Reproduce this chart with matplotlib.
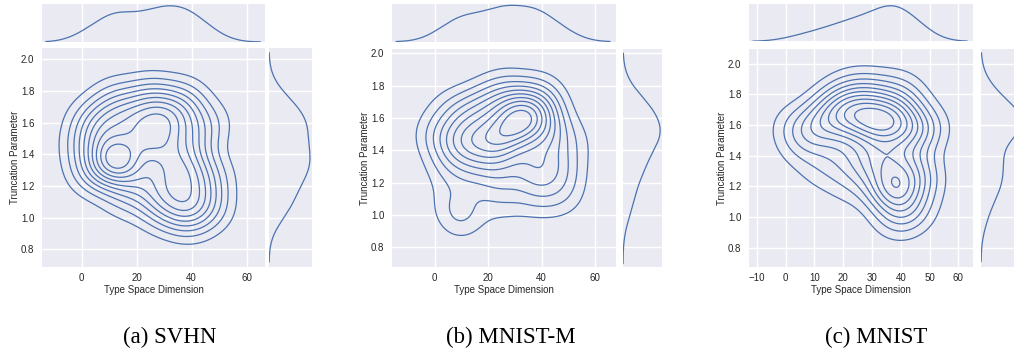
import numpy as np
import matplotlib
matplotlib.use("Agg")
import matplotlib.pyplot as plt

# ---------------- data (weighted sample locations) ----------------
svhn_x = [13.5, 22, 30, 27, 33, 34.5, 7, 10, 18, 27, 36, 40, 41, 42, 36, 28, 20, 8, 0, 2, 12, 25, 38, 47, 48, 48, 40, 28, 15, 2]
svhn_y = [1.375, 1.53, 1.58, 1.45, 1.36, 1.23, 1.5, 1.62, 1.66, 1.7, 1.66, 1.5, 1.3, 1.12, 1.05, 1.15, 1.25, 1.3, 1.45, 1.62, 1.76, 1.78, 1.76, 1.6, 1.25, 1.05, 0.98, 1.04, 1.12, 1.28]
svhn_w = [1.6, 0.75, 0.68, 0.65, 0.72, 0.6, 0.6, 0.6, 0.6, 0.6, 0.6, 0.6, 0.6, 0.6, 0.6, 0.6, 0.6, 0.6, 0.3, 0.3, 0.3, 0.3, 0.3, 0.3, 0.3, 0.3, 0.3, 0.3, 0.3, 0.3]

mnistm_x = [30, 23, 35, 14, 7, 12, 20, 30, 40, 43, 38, 25, 15, 48, 0, 5, 10, 5, 25, 38, 48, 25, 40, 52, 5]
mnistm_y = [1.54, 1.46, 1.6, 1.45, 1.45, 1.62, 1.67, 1.7, 1.66, 1.5, 1.3, 1.28, 1.28, 1.28, 1.5, 1.3, 1.0, 1.1, 1.1, 1.12, 1.12, 1.78, 1.76, 1.45, 1.65]
mnistm_w = [1.1, 1.1, 0.8, 0.8, 0.5, 0.5, 0.6, 0.6, 0.6, 0.6, 0.75, 0.5, 0.4, 0.4, 0.3, 0.3, 0.45, 0.15, 0.3, 0.35, 0.3, 0.2, 0.2, 0.2, 0.2]

mnist_x = [24, 31, 37, 37, 34, 39, 41, 15, 10, 20, 30, 40, 45, 45, 44, 28, 20, 3, 5, 12, 22, 38, 47, 49, 25, 40]
mnist_y = [1.64, 1.62, 1.6, 1.18, 1.4, 1.32, 1.02, 1.65, 1.55, 1.76, 1.78, 1.73, 1.55, 1.3, 1.05, 1.35, 1.42, 1.6, 1.45, 1.3, 1.2, 0.97, 1.2, 1.6, 1.86, 1.86]
mnist_w = [0.8, 0.8, 0.8, 1.05, 0.5, 0.3, 0.2, 0.6, 0.4, 0.5, 0.5, 0.5, 0.55, 0.4, 0.25, 0.4, 0.3, 0.25, 0.2, 0.2, 0.2, 0.2, 0.2, 0.2, 0.15, 0.15]

captions = ["(a) SVHN", "(b) MNIST-M", "(c) MNIST"]
xlabel = "Type Space Dimension"
ylabel = "Truncation Parameter"

# ---------------- style ----------------
plt.rcParams['font.family'] = ['Liberation Sans', 'DejaVu Sans']
BLUE = "#4C72B0"
BG = "#EAEAF2"
TXT = "#262626"
W, H = 1014, 351
N_LEVELS = 10

panels = [
    dict(x=svhn_x, y=svhn_y, w=svhn_w, bw=(6.5, 0.11),
         joint=(42, 48, 265, 267), top=(42, 4, 265, 42), right=(269, 48, 312, 267),
         xlim=(-14.4, 66.7), ylim=(0.688, 2.071), xticks=[0, 20, 40, 60],
         xsup=(-13, 65), ysup=(0.72, 2.04), cap_x=170),
    dict(x=mnistm_x, y=mnistm_y, w=mnistm_w, bw=(6.5, 0.11),
         joint=(392, 49, 616, 267), top=(392, 3.5, 616, 41.7), right=(623, 49, 662, 267),
         xlim=(-16.0, 67.9), ylim=(0.678, 2.027), xticks=[0, 20, 40, 60],
         xsup=(-14.4, 65.6), ysup=(0.70, 2.0), cap_x=511),
    dict(x=mnist_x, y=mnist_y, w=mnist_w, bw=(6.5, 0.11),
         joint=(749, 49, 973, 267), top=(749, 4, 973, 41.3), right=(981, 49, 1024, 267),
         xlim=(-12.7, 65.1), ylim=(0.674, 2.096), xticks=[-10, 0, 10, 20, 30, 40, 50, 60],
         xsup=(-11.3, 63), ysup=(0.71, 2.07), cap_x=876),
]


def rect(l, t, r, b):
    return [l / W, 1 - b / H, (r - l) / W, (b - t) / H]


def kde2(px, py, w, bx, by, X, Y):
    Z = np.zeros_like(X)
    for xi, yi, wi in zip(px, py, w):
        Z += wi * np.exp(-0.5 * (((X - xi) / bx) ** 2 + ((Y - yi) / by) ** 2))
    return Z


def kde1(p, w, b, g):
    d = np.zeros_like(g)
    for pi, wi in zip(p, w):
        d += wi * np.exp(-0.5 * ((g - pi) / b) ** 2)
    return d


def style(ax):
    ax.set_facecolor(BG)
    for s in ax.spines.values():
        s.set_visible(False)
    ax.tick_params(length=0, labelsize=7, colors=TXT)
    ax.set_axisbelow(True)


fig = plt.figure(figsize=(W / 100, H / 100), dpi=100)

for p in panels:
    bx, by = p['bw']
    axj = fig.add_axes(rect(*p['joint']))
    axt = fig.add_axes(rect(*p['top']))
    axr = fig.add_axes(rect(*p['right']))
    for ax in (axj, axt, axr):
        style(ax)

    gx = np.linspace(p['xlim'][0], p['xlim'][1], 300)
    gy = np.linspace(p['ylim'][0], p['ylim'][1], 300)
    X, Y = np.meshgrid(gx, gy)
    Z = kde2(p['x'], p['y'], p['w'], bx, by, X, Y)
    levels = Z.max() * np.arange(1, N_LEVELS + 1) / (N_LEVELS + 1)
    axj.contour(X, Y, Z, levels=levels, colors=BLUE, linewidths=0.9)
    axj.set_xlim(p['xlim'])
    axj.set_ylim(p['ylim'])
    axj.set_xticks(p['xticks'])
    axj.set_yticks([0.8, 1.0, 1.2, 1.4, 1.6, 1.8, 2.0])
    axj.yaxis.set_major_formatter(matplotlib.ticker.FormatStrFormatter('%.1f'))
    axj.grid(True, color='white', linewidth=1.0)
    axj.tick_params(axis='y', pad=5.5)
    axj.tick_params(axis='x', pad=4.0)
    axj.set_xlabel(xlabel, fontsize=7, color=TXT, labelpad=2)
    axj.set_ylabel(ylabel, fontsize=7, color=TXT, labelpad=0.5)

    # marginals
    mx = np.linspace(p['xsup'][0], p['xsup'][1], 400)
    dx = kde1(p['x'], p['w'], bx * 0.95, mx)
    axt.plot(mx, dx, color=BLUE, linewidth=0.9)
    axt.set_xlim(p['xlim'])
    axt.set_ylim(0, dx.max() * 1.05)
    axt.set_xticks(p['xticks'])
    axt.set_yticks([])
    axt.xaxis.grid(True, color='white', linewidth=1.0)
    axt.tick_params(labelbottom=False, labelleft=False)

    my = np.linspace(p['ysup'][0], p['ysup'][1], 400)
    dy = kde1(p['y'], p['w'], by * 0.95, my)
    axr.plot(dy, my, color=BLUE, linewidth=0.9)
    axr.set_ylim(p['ylim'])
    axr.set_xlim(0, dy.max() * 1.05)
    axr.set_yticks([0.8, 1.0, 1.2, 1.4, 1.6, 1.8, 2.0])
    axr.set_xticks([])
    axr.yaxis.grid(True, color='white', linewidth=1.0)
    axr.tick_params(labelbottom=False, labelleft=False)

for p, c in zip(panels, captions):
    fig.text(p['cap_x'] / W, 1 - 337 / H, c, ha='center', va='center',
             family=['Liberation Serif', 'DejaVu Serif'], fontsize=16.5, color='black')

fig.savefig("out.png", dpi=100, facecolor='white')
